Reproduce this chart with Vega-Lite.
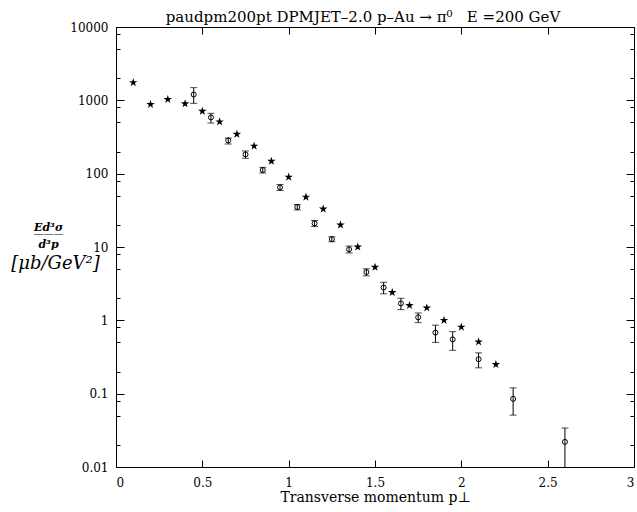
{
  "$schema": "https://vega.github.io/schema/vega-lite/v6.json",
  "autosize": "none",
  "width": 518,
  "height": 440,
  "padding": {"left": 116, "top": 27, "right": 3, "bottom": 45},
  "background": "white",
  "title": {
    "text": "paudpm200pt DPMJET–2.0 p–Au → π⁰\u00a0\u00a0\u00a0E =200 GeV",
    "font": "DejaVu Serif",
    "fontSize": 15,
    "fontWeight": "normal",
    "color": "black",
    "offset": 10,
    "dx": -12,
    "dy": 14
  },
  "datasets": {
    "stars": [
      {"pt": 0.1, "y": 1750}, {"pt": 0.2, "y": 880}, {"pt": 0.3, "y": 1030},
      {"pt": 0.4, "y": 900}, {"pt": 0.5, "y": 710}, {"pt": 0.6, "y": 510},
      {"pt": 0.7, "y": 345}, {"pt": 0.8, "y": 238}, {"pt": 0.9, "y": 148},
      {"pt": 1.0, "y": 90}, {"pt": 1.1, "y": 48}, {"pt": 1.2, "y": 33},
      {"pt": 1.3, "y": 20}, {"pt": 1.4, "y": 10}, {"pt": 1.5, "y": 5.3},
      {"pt": 1.6, "y": 2.4}, {"pt": 1.7, "y": 1.6}, {"pt": 1.8, "y": 1.48},
      {"pt": 1.9, "y": 1.0}, {"pt": 2.0, "y": 0.81}, {"pt": 2.1, "y": 0.51},
      {"pt": 2.2, "y": 0.25}
    ],
    "meas": [
      {"pt": 0.45, "y": 1200, "lo": 910, "hi": 1490},
      {"pt": 0.55, "y": 585, "lo": 490, "hi": 665},
      {"pt": 0.65, "y": 284, "lo": 254, "hi": 306},
      {"pt": 0.75, "y": 183, "lo": 162, "hi": 204},
      {"pt": 0.85, "y": 112, "lo": 102, "hi": 122},
      {"pt": 0.95, "y": 65, "lo": 59, "hi": 71},
      {"pt": 1.05, "y": 35, "lo": 32, "hi": 38},
      {"pt": 1.15, "y": 21, "lo": 19, "hi": 23},
      {"pt": 1.25, "y": 12.8, "lo": 11.8, "hi": 13.8},
      {"pt": 1.35, "y": 9.3, "lo": 8.3, "hi": 10.3},
      {"pt": 1.45, "y": 4.55, "lo": 4.05, "hi": 5.05},
      {"pt": 1.55, "y": 2.8, "lo": 2.3, "hi": 3.3},
      {"pt": 1.65, "y": 1.7, "lo": 1.4, "hi": 2.0},
      {"pt": 1.75, "y": 1.1, "lo": 0.93, "hi": 1.26},
      {"pt": 1.85, "y": 0.68, "lo": 0.5, "hi": 0.86},
      {"pt": 1.95, "y": 0.55, "lo": 0.39, "hi": 0.7},
      {"pt": 2.1, "y": 0.295, "lo": 0.225, "hi": 0.36},
      {"pt": 2.3, "y": 0.085, "lo": 0.051, "hi": 0.12},
      {"pt": 2.6, "y": 0.022, "lo": 0.009, "hi": 0.034}
    ]
  },
  "config": {
    "view": {"stroke": "black", "strokeWidth": 1},
    "axis": {
      "grid": false,
      "domain": false,
      "ticks": true,
      "zindex": 2,
      "labelFont": "DejaVu Serif",
      "labelFontSize": 12,
      "labelColor": "black",
      "tickColor": "black",
      "tickWidth": 1,
      "tickOpacity": 1,
      "titleFont": "DejaVu Serif",
      "titleColor": "black",
      "titleFontWeight": "normal"
    }
  },
  "resolve": {"axis": {"x": "independent", "y": "independent"}},
  "layer": [
    {
      "data": {"name": "stars"},
      "mark": {"type": "point", "shape": "M0,-1L0.2245,-0.309L0.9511,-0.309L0.3633,0.118L0.5878,0.809L0,0.382L-0.5878,0.809L-0.3633,0.118L-0.9511,-0.309L-0.2245,-0.309Z", "filled": true, "color": "black", "size": 80, "opacity": 1},
      "encoding": {
        "x": {"field": "pt", "type": "quantitative",
          "scale": {"domain": [0, 3], "nice": false, "zero": false},
          "axis": {"orient": "bottom", "values": [0, 0.5, 1, 1.5, 2, 2.5, 3], "format": "~g", "offset": -7, "tickSize": 7, "labelPadding": 10, "title": "Transverse momentum p⊥", "titleFontSize": 14, "titlePadding": 2}},
        "y": {"field": "y", "type": "quantitative",
          "scale": {"type": "log", "domain": [0.01, 10000], "nice": false},
          "axis": {"orient": "left", "values": [0.01, 0.1, 1, 10, 100, 1000, 10000], "format": "~g", "offset": -8, "tickSize": 8, "labelPadding": 8,
            "title": "Ed³σ", "titleFontSize": 11, "titleFontWeight": "bold", "titleFontStyle": "italic", "titleAngle": 0, "titleAlign": "center", "titleBaseline": "middle", "titleX": -76, "titleY": 200}}
      }
    },
    {
      "data": {"name": "meas"},
      "mark": {"type": "rule", "color": "black", "strokeWidth": 1, "clip": true},
      "encoding": {
        "x": {"field": "pt", "type": "quantitative", "scale": {"domain": [0, 3], "nice": false, "zero": false},
          "axis": {"orient": "top", "values": [0, 0.5, 1, 1.5, 2, 2.5, 3], "labels": false, "offset": -7, "tickSize": 7,
            "title": "———", "titleFontSize": 10, "titleAngle": 0, "titleAlign": "center", "titleBaseline": "middle", "titleX": -68, "titleY": 199}},
        "y": {"field": "lo", "type": "quantitative", "scale": {"type": "log", "domain": [0.01, 10000], "nice": false},
          "axis": {"orient": "left", "values": [0.02, 0.05, 0.08, 0.2, 0.5, 0.8, 2, 5, 8, 20, 50, 80, 200, 500, 800, 2000, 5000, 8000], "labels": false, "offset": -4, "tickSize": 4,
            "title": "[μb/GeV²]", "titleFontSize": 18, "titleFontStyle": "italic", "titleAngle": 0, "titleAlign": "center", "titleBaseline": "middle", "titleX": -65, "titleY": 236}},
        "y2": {"field": "hi"}
      }
    },
    {
      "data": {"name": "meas"},
      "mark": {"type": "tick", "orient": "horizontal", "color": "black", "size": 7, "thickness": 1, "clip": true},
      "encoding": {
        "x": {"field": "pt", "type": "quantitative", "scale": {"domain": [0, 3], "nice": false, "zero": false}, "axis": null},
        "y": {"field": "hi", "type": "quantitative", "scale": {"type": "log", "domain": [0.01, 10000], "nice": false},
          "axis": {"orient": "right", "values": [0.01, 0.1, 1, 10, 100, 1000, 10000], "labels": false, "offset": -8, "tickSize": 8, "title": null}}
      }
    },
    {
      "data": {"name": "meas"},
      "mark": {"type": "tick", "orient": "horizontal", "color": "black", "size": 7, "thickness": 1, "clip": true},
      "encoding": {
        "x": {"field": "pt", "type": "quantitative", "scale": {"domain": [0, 3], "nice": false, "zero": false}, "axis": null},
        "y": {"field": "lo", "type": "quantitative", "scale": {"type": "log", "domain": [0.01, 10000], "nice": false},
          "axis": {"orient": "right", "values": [0.02, 0.05, 0.08, 0.2, 0.5, 0.8, 2, 5, 8, 20, 50, 80, 200, 500, 800, 2000, 5000, 8000], "labels": false, "offset": -4, "tickSize": 4, "title": null}}
      }
    },
    {
      "data": {"name": "meas"},
      "mark": {"type": "point", "shape": "circle", "filled": false, "color": "black", "strokeWidth": 1, "size": 25, "opacity": 1},
      "encoding": {
        "x": {"field": "pt", "type": "quantitative", "scale": {"domain": [0, 3], "nice": false, "zero": false}, "axis": null},
        "y": {"field": "y", "type": "quantitative", "scale": {"type": "log", "domain": [0.01, 10000], "nice": false},
          "axis": {"orient": "left", "values": [10], "ticks": false, "labels": false,
            "title": "d³p", "titleFontSize": 11, "titleFontWeight": "bold", "titleFontStyle": "italic", "titleAngle": 0, "titleAlign": "center", "titleBaseline": "middle", "titleX": -68, "titleY": 217}}
      }
    }
  ]
}
